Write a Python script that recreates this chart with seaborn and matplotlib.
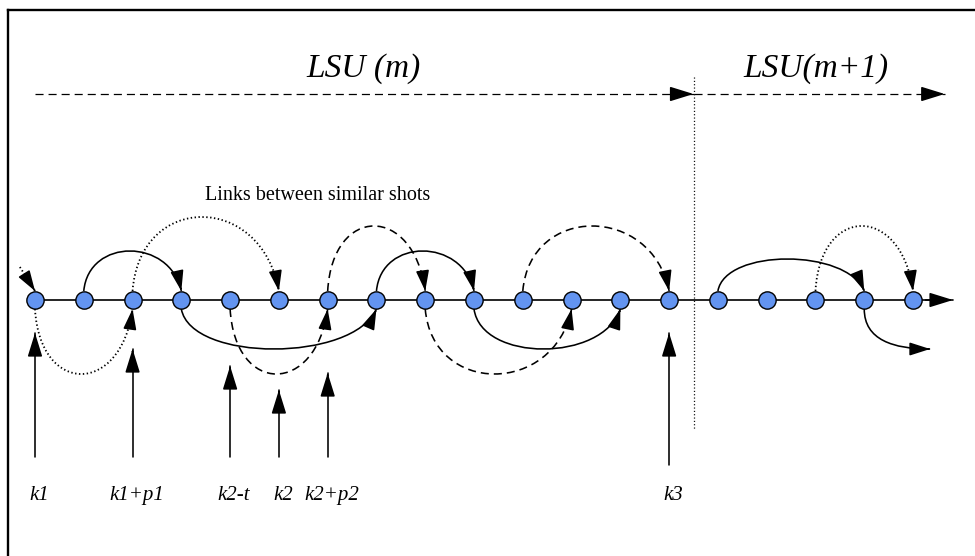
import numpy as np
import pandas as pd
import matplotlib
matplotlib.use("Agg")
import matplotlib.pyplot as plt
from matplotlib.patches import FancyArrowPatch, PathPatch, ArrowStyle
from matplotlib.path import Path
import seaborn as sns

sns.set_style("white")
plt.rcParams['lines.scale_dashes'] = False
plt.rcParams['font.family'] = ['Liberation Serif', 'DejaVu Serif']
plt.rcParams['text.color'] = 'black'

# --- data -------------------------------------------------------------
# shots on the time line (shot index)
shot_idx = [0, 1, 2, 3, 4, 5, 6, 7, 8, 9, 10, 11, 12, 13, 14, 15, 16, 17, 18]
axis_y = 300

# links between similar shots drawn above the line
top_from = [1, 2, 6, 7, 10, 14, 16]
top_to = [3, 5, 8, 9, 13, 17, 18]
top_peak = [251, 217, 226, 251, 226, 259, 226]
top_style = ['solid', 'dotted', 'dashed', 'solid', 'dashed', 'solid', 'dotted']

# links drawn below the line
bot_from = [0, 3, 4, 8, 9]
bot_to = [2, 7, 6, 11, 12]
bot_peak = [374, 349, 374, 374, 349]
bot_style = ['dotted', 'solid', 'dashed', 'dashed', 'solid']

# shot markers under the line
marker_labels = ['k1', 'k1+p1', 'k2-t', 'k2', 'k2+p2', 'k3']
marker_shot = [0, 2, 4, 5, 6, 13]
marker_tip = [333, 349, 366, 390, 373, 333]
marker_base = [457, 457, 457, 457, 457, 465]

# logical story units
lsu_labels = ['LSU (m)', 'LSU(m+1)']
lsu_start = [0.0, 13.5]
lsu_end = [13.5, 18.65]
lsu_text_x = [6.74, 16.0]
lsu_boundary = 13.5

# --- figure -----------------------------------------------------------
px0, step = 35.0, 48.78
fig = plt.figure(figsize=(9.75, 5.56), dpi=100)
ax = fig.add_axes([0, 0, 1, 1])
ax.set_xlim(-px0 / step, (975 - px0) / step)
ax.set_ylim(556, 0)
ax.axis('off')

LS = {'solid': '-', 'dashed': (0, (5.8, 3.6)), 'dotted': (0, (1.0, 1.8))}
head_small = ArrowStyle('-|>', head_length=1.25, head_width=0.4)
head_big = ArrowStyle('-|>', head_length=1.45, head_width=0.45)
node_r = 9
LW = 1.15


def head_at(p_back, p_tip, head):
    """solid filled arrow head at p_tip, pointing from p_back"""
    arr = FancyArrowPatch(p_back, p_tip, arrowstyle=head, mutation_scale=10,
                          color='black', lw=LW, shrinkA=0, shrinkB=0,
                          zorder=4)
    ax.add_patch(arr)


def bezier_arrow(verts, style, head=head_small, lw=LW):
    path = Path(verts, [Path.MOVETO, Path.CURVE4, Path.CURVE4, Path.CURVE4])
    ax.add_patch(PathPatch(path, fill=False, edgecolor='black', lw=lw,
                           linestyle=LS[style], zorder=3))
    (x2, y2), (x3, y3) = verts[2], verts[3]
    head_at((x3 + 0.05 * (x2 - x3), y3 + 0.05 * (y2 - y3)), (x3, y3), head)


def link(xa, xb, ys, ypeak, style):
    span = xb - xa
    yc = (ypeak - 0.25 * ys) / 0.75
    lw = 1.3 if style == 'dotted' else LW
    bezier_arrow([(xa, ys), (xa + 0.05 * span, yc),
                  (xb - 0.12 * span, yc), (xb, ys)], style, lw=lw)


def straight(p0, p1, style='solid', head=head_big, lw=LW):
    ax.plot([p0[0], p1[0]], [p0[1], p1[1]], color='black', lw=lw,
            linestyle=LS[style], zorder=3)
    head_at((p1[0] + 0.03 * (p0[0] - p1[0]), p1[1] + 0.03 * (p0[1] - p1[1])),
            p1, head)


# frame (left and top edge)
fx, fy = 8 / 975, 1 - 10 / 556
ax.plot([fx, fx], [0, fy], color='black', lw=1.7, transform=ax.transAxes,
        solid_capstyle='projecting')
ax.plot([fx, 1.0], [fy, fy], color='black', lw=1.7, transform=ax.transAxes,
        solid_capstyle='projecting')

# main time line
straight((shot_idx[0], axis_y), (18.82, axis_y), lw=1.2)

for a, b, pk, st in zip(top_from, top_to, top_peak, top_style):
    link(a, b, axis_y - node_r, pk, st)
for a, b, pk, st in zip(bot_from, bot_to, bot_peak, bot_style):
    link(a, b, axis_y + node_r, pk, st)

# incoming link to the first shot and outgoing link from shot 17
straight((-0.31, 267), (0, axis_y - node_r), style='dotted', head=head_small,
         lw=1.3)
bezier_arrow([(17, axis_y + node_r), (17, 340), (17.6, 349), (18.35, 349)],
             'solid')

# shots
df = pd.DataFrame({'shot': shot_idx, 'y': [axis_y] * len(shot_idx)})
sns.scatterplot(data=df, x='shot', y='y', s=155, color='#6394f0',
                edgecolor='black', linewidth=1.0, zorder=10, ax=ax,
                legend=False)

# markers below
for lab, sh, tip, base in zip(marker_labels, marker_shot, marker_tip,
                              marker_base):
    straight((sh, base), (sh, tip))
    ax.text(sh + 0.08, 500, lab, ha='center', va='baseline', fontsize=15,
            style='italic', color='black')

# LSU arrows and labels
for lab, s, e, tx in zip(lsu_labels, lsu_start, lsu_end, lsu_text_x):
    straight((s, 94), (e, 94), style='dashed', head=head_big, lw=0.9)
    ax.text(tx, 77, lab, ha='center', va='baseline', fontsize=24,
            style='italic', color='black')
ax.plot([lsu_boundary, lsu_boundary], [77, 430], color='black', lw=0.9,
        linestyle=(0, (0.8, 1.6)))

ax.text(5.8, 195, 'Links between similar shots', ha='center', va='center',
        fontsize=14.5, color='black')

fig.savefig('out.png', dpi=100)
